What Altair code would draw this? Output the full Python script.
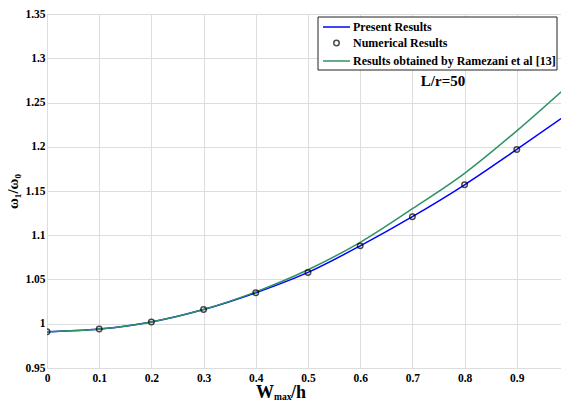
import altair as alt
import pandas as pd

# ---- data ----
x_vals = [0.0, 0.1, 0.2, 0.3, 0.4, 0.5, 0.6, 0.7, 0.8, 0.9, 1.0]
present = [0.991, 0.994, 1.002, 1.016, 1.035, 1.058, 1.088, 1.121, 1.157, 1.197, 1.238]
numerical = [0.991, 0.994, 1.002, 1.016, 1.035, 1.058, 1.088, 1.121, 1.157, 1.197, 1.244]
ramezani = [0.991, 0.994, 1.002, 1.016, 1.036, 1.061, 1.092, 1.130, 1.170, 1.218, 1.270]
series_names = ["Present Results", "Numerical Results",
                "Results obtained by Ramezani et al [13]"]
series_colors = ["#0000ff", "#000000", "#2f9263"]
x_ticks = [0, 0.1, 0.2, 0.3, 0.4, 0.5, 0.6, 0.7, 0.8, 0.9, 1]
y_ticks = [0.95, 1.0, 1.05, 1.1, 1.15, 1.2, 1.25, 1.3, 1.35]
annotation = ["L/r=50"]

rows = []
for name, vals in zip(series_names, [present, numerical, ramezani]):
    for xv, yv in zip(x_vals, vals):
        rows.append({"x": xv, "y": yv, "series": name})
df = pd.DataFrame(rows)

FONT = "Liberation Serif"
W, H = 522, 354

xs = alt.Scale(domain=[0, 1], nice=False)
ys = alt.Scale(domain=[0.95, 1.35], nice=False, zero=False)
cscale = alt.Scale(domain=series_names, range=series_colors)

xenc = alt.X("x:Q", scale=xs, axis=alt.Axis(values=x_ticks, format="~g", title=None,
             labelFont=FONT, labelFontSize=11.5, labelFontWeight="bold",
             labelColor="black", labelPadding=4, grid=True, ticks=False, domain=False,
             labelFlush=False))
yenc = alt.Y("y:Q", scale=ys, axis=alt.Axis(values=y_ticks, format="~g", title="ω₁/ω₀",
             titleFont=FONT, titleFontSize=15, titleFontWeight="bold", titleColor="black",
             titlePadding=4, labelFont=FONT, labelFontSize=11.5, labelFontWeight="bold",
             labelColor="black", labelPadding=2, grid=True, ticks=False, domain=False))

base = alt.Chart(df)
lines = base.transform_filter(
    alt.FieldOneOfPredicate(field="series", oneOf=[series_names[0], series_names[2]])
).mark_line(strokeWidth=1.5, interpolate="monotone", clip=True).encode(
    x=xenc, y=yenc, color=alt.Color("series:N", scale=cscale, legend=None))
points = base.transform_filter(
    alt.FieldEqualPredicate(field="series", equal=series_names[1])
).mark_point(filled=False, strokeWidth=1.5, size=30, color="black", clip=True).encode(
    x="x:Q", y="y:Q")

# ---- manual legend box ----
one = pd.DataFrame({"k": [0]})
leg_box = alt.Chart(one).mark_rect(fill="white", stroke="#222", strokeWidth=1).encode(
    x=alt.value(271), x2=alt.value(510), y=alt.value(3), y2=alt.value(56))
leg_layers = [leg_box]
row_y = [13, 29, 47]
for i, (name, col) in enumerate(zip(series_names, series_colors)):
    if i == 1:
        leg_layers.append(alt.Chart(one).mark_point(
            filled=False, strokeWidth=1.5, size=30, color=col).encode(
            x=alt.value(289.5), y=alt.value(row_y[i])))
    else:
        leg_layers.append(alt.Chart(one).mark_rule(color=col, strokeWidth=1.5).encode(
            x=alt.value(276), x2=alt.value(303), y=alt.value(row_y[i])))
    leg_layers.append(alt.Chart(pd.DataFrame({"t": [name]})).mark_text(
        font=FONT, fontSize=12, fontWeight="bold", color="black", align="left",
        baseline="middle").encode(x=alt.value(306), y=alt.value(row_y[i]), text="t:N"))

ann = alt.Chart(pd.DataFrame({"t": annotation})).mark_text(
    font=FONT, fontSize=15, fontWeight="bold", color="black", align="center",
    baseline="middle").encode(x=alt.value(396), y=alt.value(67), text="t:N")

t1 = alt.Chart(one).mark_text(font=FONT, fontSize=18, fontWeight="bold", color="black",
                              align="left", baseline="alphabetic").encode(
    x=alt.value(209), y=alt.value(384), text=alt.value("W"))
t2 = alt.Chart(one).mark_text(font=FONT, fontSize=9.5, fontWeight="bold", color="black",
                              align="left", baseline="alphabetic").encode(
    x=alt.value(227), y=alt.value(386), text=alt.value("max"))
t3 = alt.Chart(one).mark_text(font=FONT, fontSize=18, fontWeight="bold", color="black",
                              align="left", baseline="alphabetic").encode(
    x=alt.value(244), y=alt.value(384), text=alt.value("/h"))

chart = alt.layer(lines, points, *leg_layers, ann, t1, t2, t3).properties(
    width=W, height=H,
    autosize=alt.AutoSizeParams(type="none"),
    padding={"left": 39, "top": 6, "right": -8, "bottom": 34},
).configure_view(stroke="#222", strokeWidth=1).configure_axis(
    gridColor="#8c8c8c", gridWidth=1, gridOpacity=1
).configure(background="white")

chart.save("out.html", embed_options={"renderer": "svg", "actions": False})
